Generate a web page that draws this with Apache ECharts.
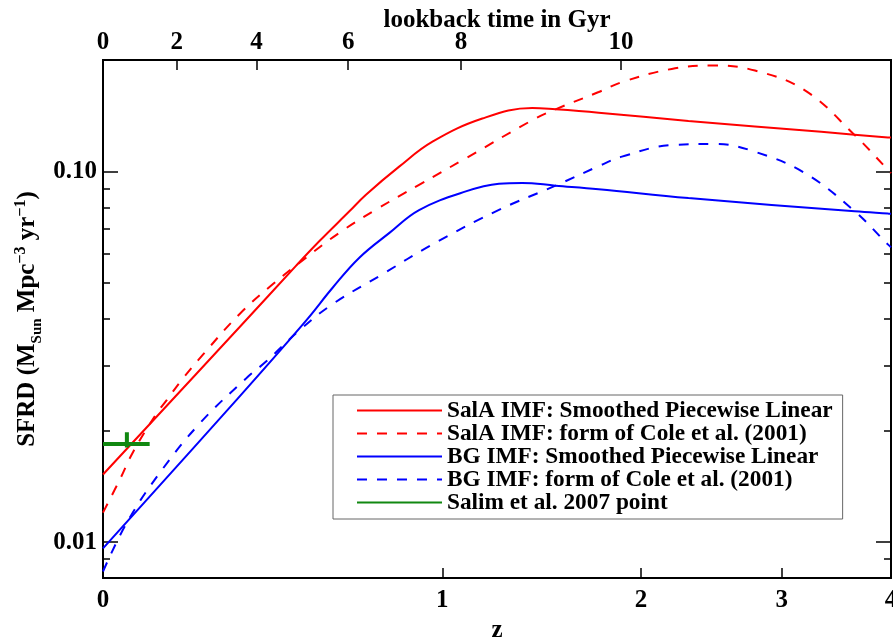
<!DOCTYPE html>
<html>
<head>
<meta charset="utf-8">
<script src="https://cdn.jsdelivr.net/npm/echarts@6/dist/echarts.min.js"></script>
<style>
html,body{margin:0;padding:0;background:#fff;}
#chart{width:893px;height:642px;}
</style>
</head>
<body>
<div id="chart"></div>
<script>
// ---- data ----
const salaSmoothZ = [0, 0.322, 0.483, 0.556, 0.654, 0.711, 0.831, 0.960, 1.170, 1.403, 1.520, 1.752, 2.306, 3.336, 3.968, 4.0];
const salaSmoothV = [0.01522, 0.03805, 0.05564, 0.06492, 0.0781, 0.0866, 0.1031, 0.1204, 0.139, 0.1484, 0.1472, 0.1442, 0.137, 0.128, 0.1236, 0.1235];

const salaColeZ = [0, 0.035, 0.064, 0.116, 0.139, 0.174, 0.227, 0.322, 0.415, 0.514, 0.620, 0.746, 0.907, 1.098, 1.403, 1.520, 1.752, 1.886, 2.195, 2.490, 2.787, 3.194, 3.643, 3.968, 4.0];
const salaColeV = [0.01201, 0.01475, 0.01757, 0.02227, 0.02417, 0.02735, 0.03211, 0.04128, 0.04969, 0.05855, 0.06831, 0.0789, 0.0921, 0.1086, 0.1376, 0.1472, 0.1639, 0.1743, 0.1892, 0.1932, 0.1873, 0.1656, 0.1254, 0.1011, 0.0990];

const bgSmoothZ = [0, 0.313, 0.514, 0.599, 0.688, 0.795, 0.907, 1.098, 1.245, 1.354, 1.520, 1.752, 2.306, 3.643, 3.968, 4.0];
const bgSmoothV = [0.00962, 0.02417, 0.03961, 0.04865, 0.05855, 0.06831, 0.0787, 0.0884, 0.0927, 0.0932, 0.0916, 0.0896, 0.0848, 0.0781, 0.0770, 0.0769];

const bgColeZ = [0, 0.050, 0.123, 0.219, 0.340, 0.396, 0.493, 0.599, 0.770, 0.960, 1.245, 1.520, 1.752, 1.886, 2.195, 2.490, 2.787, 3.194, 3.643, 3.968, 4.0];
const bgColeV = [0.00833, 0.01129, 0.01538, 0.02094, 0.02769, 0.03075, 0.03724, 0.04392, 0.05285, 0.0636, 0.0788, 0.0916, 0.1034, 0.1097, 0.1179, 0.1187, 0.1131, 0.0990, 0.0781, 0.0636, 0.0625];

// Salim et al. 2007 point with error bars
const salimZ = 0.05, salimZLo = 0.0, salimZHi = 0.10;
const salimV = 0.0184, salimVLo = 0.0180, salimVHi = 0.0198;

// axis ticks
const zTicks = [0, 1, 2, 3, 4];
const lookbackLabels = [0, 2, 4, 6, 8, 10];
const lookbackZ = [0, 0.1624, 0.368, 0.650, 1.078, 1.880];
const yMajor = [0.01, 0.1];
const yMinor = [0.008, 0.009, 0.02, 0.03, 0.04, 0.05, 0.06, 0.07, 0.08, 0.09, 0.2];

const seriesNames = [
  'SalA IMF: Smoothed Piecewise Linear',
  'SalA IMF: form of Cole et al. (2001)',
  'BG IMF: Smoothed Piecewise Linear',
  'BG IMF: form of Cole et al. (2001)',
  'Salim et al. 2007 point'
];

// ---- build ----
const lx = z => Math.log10(1 + z);
const pairs = (zs, vs) => zs.map((z, i) => [lx(z), vs[i]]);
const FONT = '"Liberation Serif", "Times New Roman", serif';
const black = '#000';

const chart = echarts.init(document.getElementById('chart'), null, {renderer: 'canvas'});

function yAx(pos, vals, len, labels) {
  const ax = {
    type: 'log', logBase: 10, min: 0.008, max: 0.2, position: pos,
    axisLine: {show: true, lineStyle: {color: black, width: 2}},
    axisTick: {show: true, inside: true, length: len, customValues: vals, lineStyle: {color: black, width: 1.5}},
    minorTick: {show: false},
    splitLine: {show: false},
    axisLabel: {show: false}
  };
  if (labels) {
    ax.axisLabel = {
      show: true, customValues: vals, margin: 6,
      fontFamily: FONT, fontWeight: 'bold', fontSize: 25, color: black,
      formatter: v => Number(v).toFixed(2)
    };
    ax.name = 'SFRD (M{sub|Sun} Mpc{sup|\u22123} yr{sup|\u22121})';
    ax.nameLocation = 'middle';
    ax.nameGap = 60;
    ax.nameMoveOverlap = false;
    ax.nameTextStyle = {
      fontFamily: FONT, fontWeight: 'bold', fontSize: 25, color: black, lineHeight: 30,
      rich: {
        sub: {fontFamily: FONT, fontWeight: 'bold', fontSize: 15, color: black, verticalAlign: 'bottom', lineHeight: 15, padding: [0, 0, -2, 0]},
        sup: {fontFamily: FONT, fontWeight: 'bold', fontSize: 16, color: black, verticalAlign: 'top', lineHeight: 16}
      }
    };
  }
  return ax;
}

const option = {
  animation: false,
  backgroundColor: '#fff',
  grid: {left: 103, right: 2, top: 60, bottom: 64, containLabel: false, outerBoundsMode: 'none'},
  legend: {
    orient: 'vertical', left: 333, top: 395,
    data: seriesNames,
    itemWidth: 85, itemHeight: 14, itemGap: 0, itemTextGap: 14,
    padding: [4, 10, 5, 23],
    borderColor: '#666', borderWidth: 1, backgroundColor: '#fff',
    itemStyle: {opacity: 0},
    textStyle: {fontFamily: FONT, fontWeight: 'bold', fontSize: 23.3, lineHeight: 23, color: black}
  },
  xAxis: [
    {
      type: 'value', min: 0, max: lx(4), position: 'bottom',
      axisLine: {show: true, onZero: false, lineStyle: {color: black, width: 2}},
      axisTick: {show: true, inside: true, length: 10, customValues: zTicks.map(lx), lineStyle: {color: black, width: 1.5}},
      axisLabel: {
        customValues: zTicks.map(lx), margin: 10,
        fontFamily: FONT, fontWeight: 'bold', fontSize: 25, color: black,
        formatter: v => String(Math.round(Math.pow(10, v) - 1))
      },
      splitLine: {show: false},
      name: 'z', nameLocation: 'middle', nameGap: 40, nameMoveOverlap: false,
      nameTextStyle: {fontFamily: FONT, fontWeight: 'bold', fontSize: 25, color: black}
    },
    {
      type: 'value', min: 0, max: lx(4), position: 'top',
      axisLine: {show: true, onZero: false, lineStyle: {color: black, width: 2}},
      axisTick: {show: true, inside: true, length: 10, customValues: lookbackZ.map(lx), lineStyle: {color: black, width: 1.5}},
      axisLabel: {
        customValues: lookbackZ.map(lx), margin: 5,
        fontFamily: FONT, fontWeight: 'bold', fontSize: 25, color: black,
        formatter: v => {
          let best = 0, d = Infinity;
          lookbackZ.forEach((z, i) => { const dd = Math.abs(lx(z) - v); if (dd < d) { d = dd; best = i; } });
          return String(lookbackLabels[best]);
        }
      },
      splitLine: {show: false},
      name: 'lookback time in Gyr', nameLocation: 'middle', nameGap: 27, nameMoveOverlap: false,
      nameTextStyle: {fontFamily: FONT, fontWeight: 'bold', fontSize: 25, color: black}
    }
  ],
  yAxis: [
    yAx('left', yMajor, 15, true),
    yAx('left', yMinor, 7, false),
    yAx('right', yMajor, 15, false),
    yAx('right', yMinor, 7, false)
  ],
  series: [
    {name: seriesNames[0], type: 'line', data: pairs(salaSmoothZ, salaSmoothV), smooth: 0.4, symbol: 'none', showSymbol: false,
     color: '#ff0000', lineStyle: {color: '#ff0000', width: 2, type: 'solid'}},
    {name: seriesNames[1], type: 'line', data: pairs(salaColeZ, salaColeV), smooth: 0.4, symbol: 'none', showSymbol: false,
     color: '#ff0000', lineStyle: {color: '#ff0000', width: 2, type: [10, 10]}},
    {name: seriesNames[2], type: 'line', data: pairs(bgSmoothZ, bgSmoothV), smooth: 0.4, symbol: 'none', showSymbol: false,
     color: '#0000ff', lineStyle: {color: '#0000ff', width: 2, type: 'solid'}},
    {name: seriesNames[3], type: 'line', data: pairs(bgColeZ, bgColeV), smooth: 0.4, symbol: 'none', showSymbol: false,
     color: '#0000ff', lineStyle: {color: '#0000ff', width: 2, type: [10, 10]}},
    {name: seriesNames[4], type: 'line', symbol: 'none', showSymbol: false, connectNulls: false, z: 5,
     data: [[lx(salimZLo), salimV], [lx(salimZHi), salimV], [lx(salimZ), '-'], [lx(salimZ), salimVHi], [lx(salimZ), salimVLo]],
     color: '#118811', lineStyle: {color: '#118811', width: 4}}
  ]
};
chart.setOption(option);
</script>
</body>
</html>
